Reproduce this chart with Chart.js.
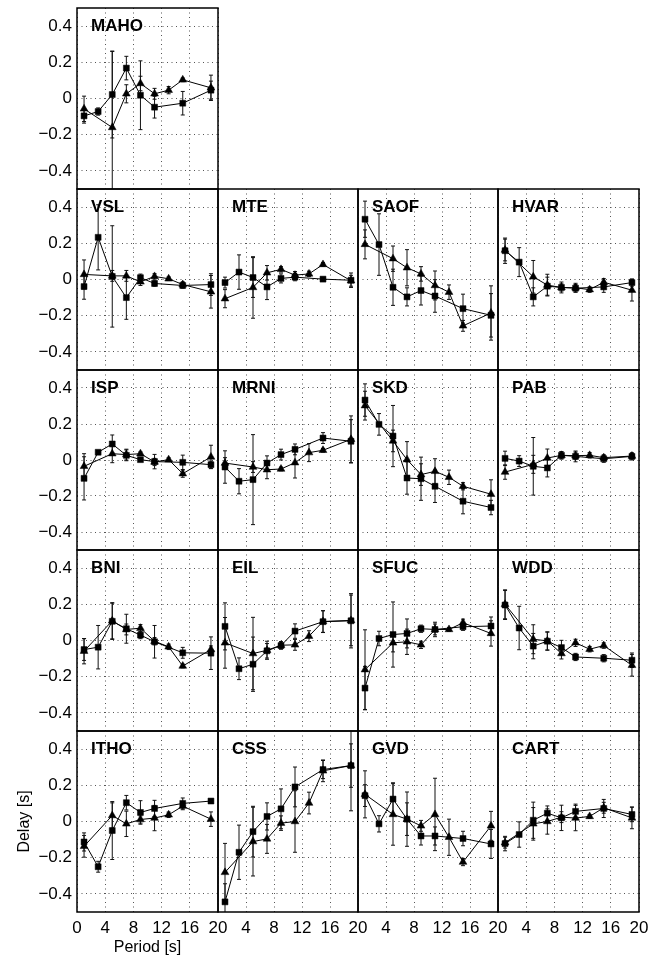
<!DOCTYPE html>
<html>
<head>
<meta charset="utf-8">
<title>Delay vs period</title>
<script src="https://cdn.jsdelivr.net/npm/chart.js@4.4.1/dist/chart.umd.min.js"></script>
<style>
  html, body { margin: 0; padding: 0; background: #fff; overflow: hidden; }
  #figura { position: relative; width: 655px; height: 955px; }
  #figura canvas { position: absolute; }
</style>
</head>
<body>
<div id="figura"></div>
<script>
// estações na ordem de leitura (MAHO sozinha na primeira linha)
const stations = ['MAHO',
  'VSL', 'MTE', 'SAOF', 'HVAR',
  'ISP', 'MRNI', 'SKD', 'PAB',
  'BNI', 'EIL', 'SFUC', 'WDD',
  'ITHO', 'CSS', 'GVD', 'CART'];
const periods = [1, 3, 5, 7, 9, 11, 13, 15, 19];
const xTicks = [0, 4, 8, 12, 16, 20];
const yTicks = [-0.4, -0.2, 0, 0.2, 0.4];

// série dos quadrados (null = sem medida nesse período)
const squareDelay = [
  [-0.096, -0.072, 0.022, 0.168, 0.018, -0.048, null, -0.026, 0.046],   // MAHO
  [-0.039, 0.233, 0.017, -0.1, 0.01, -0.022, null, -0.033, -0.028],     // VSL
  [-0.017, 0.041, 0.011, -0.041, 0.006, 0.013, null, 0.002, -0.004],    // MTE
  [0.333, 0.193, -0.043, -0.096, -0.061, -0.091, null, -0.161, -0.198], // SAOF
  [0.159, 0.096, -0.096, -0.037, -0.044, -0.048, null, -0.041, -0.017], // HVAR
  [-0.102, 0.043, 0.089, 0.026, 0.002, -0.009, null, -0.013, -0.026],   // ISP
  [-0.039, -0.118, -0.109, -0.017, 0.03, 0.059, null, 0.122, 0.104],    // MRNI
  [0.333, 0.198, 0.133, -0.1, -0.104, -0.146, null, -0.229, -0.264],    // SKD
  [0.009, -0.006, -0.035, -0.044, 0.026, 0.02, null, 0.007, 0.02],      // PAB
  [-0.05, -0.037, 0.106, 0.065, 0.03, -0.007, null, -0.068, -0.07],     // BNI
  [0.078, -0.156, -0.131, -0.057, -0.028, 0.052, null, 0.104, 0.109],   // EIL
  [-0.263, 0.011, 0.033, 0.039, 0.065, 0.061, null, 0.076, 0.08],       // SFUC
  [0.196, 0.069, -0.031, -0.004, -0.039, -0.091, null, -0.098, -0.109], // WDD
  [-0.113, -0.25, -0.05, 0.104, 0.05, 0.072, null, 0.1, 0.113],         // ITHO
  [-0.444, -0.17, -0.056, 0.028, 0.07, 0.191, null, 0.287, 0.309],      // CSS
  [0.143, -0.013, 0.124, 0.013, -0.08, -0.08, null, -0.094, -0.124],    // GVD
  [-0.122, -0.072, 0.007, 0.046, 0.02, 0.056, null, 0.072, 0.039]       // CART
];
const squareError = [
  [0.04, 0.02, 0.24, 0.065, 0.19, 0.06, null, 0.065, 0.05],
  [0.07, 0.18, 0.28, 0.12, 0.02, 0.015, null, 0.015, 0.06],
  [0.03, 0.095, 0.11, 0.07, 0.025, 0.02, null, 0.01, 0.04],
  [0.1, 0.17, 0.1, 0.05, 0.08, 0.09, null, 0.08, 0.12],
  [0.07, 0.08, 0.05, 0.05, 0.02, 0.02, null, 0.03, 0.02],
  [0.12, 0.01, 0.05, 0.03, 0.01, 0.04, null, 0.04, 0.02],
  [0.09, 0.07, 0.25, 0.04, 0.03, 0.03, null, 0.03, 0.12],
  [0.09, 0.06, 0.17, 0.09, 0.12, 0.09, null, 0.07, 0.04],
  [0.04, 0.03, 0.16, 0.05, 0.02, 0.03, null, 0.02, 0.02],
  [0.06, 0.12, 0.1, 0.08, 0.02, 0.09, null, 0.03, 0.09],
  [0.13, 0.06, 0.15, 0.04, 0.02, 0.04, null, 0.06, 0.15],
  [0.12, 0.04, 0.18, 0.08, 0.02, 0.04, null, 0.02, 0.05],
  [0.08, 0.12, 0.07, 0.05, 0.04, 0.02, null, 0.02, 0.04],
  [0.05, 0.03, 0.16, 0.04, 0.065, 0.045, null, 0.03, 0.01],
  [0.1, 0.15, 0.14, 0.075, 0.11, 0.11, null, 0.05, 0.25],
  [0.06, 0.045, 0.09, 0.15, 0.05, 0.05, null, 0.04, 0.08],
  [0.04, 0.07, 0.1, 0.04, 0.07, 0.04, null, 0.05, 0.04]
];

// série dos triângulos
const triangleDelay = [
  [-0.057, null, -0.16, 0.026, 0.083, 0.026, 0.046, 0.103, 0.059],     // MAHO
  [0.028, null, 0.02, 0.02, -0.013, 0.017, 0.004, -0.028, -0.068],     // VSL
  [-0.106, null, -0.044, 0.037, 0.056, 0.024, 0.031, 0.083, -0.007],   // MTE
  [0.194, null, 0.115, 0.065, 0.031, -0.033, -0.07, -0.256, -0.185],   // SAOF
  [0.163, null, 0.015, -0.031, -0.044, -0.046, -0.056, -0.015, -0.059],// HVAR
  [-0.035, null, 0.035, 0.03, 0.035, -0.011, 0.002, -0.076, 0.017],    // ISP
  [-0.017, null, -0.039, -0.054, -0.05, -0.015, 0.041, 0.054, 0.115],  // MRNI
  [0.302, null, 0.106, 0.002, -0.081, -0.063, -0.096, -0.146, -0.19],  // SKD
  [-0.067, null, -0.024, 0.011, 0.026, 0.024, 0.026, 0.013, 0.022],    // PAB
  [-0.059, null, 0.109, 0.061, 0.068, -0.004, -0.035, -0.141, -0.05],  // BNI
  [-0.013, null, -0.072, -0.054, -0.026, -0.024, 0.024, 0.105, 0.111], // EIL
  [-0.161, null, -0.013, -0.007, -0.024, 0.061, 0.061, 0.098, 0.039],  // SFUC
  [0.2, null, 0.007, -0.002, -0.072, -0.013, -0.048, -0.028, -0.137],  // WDD
  [-0.137, null, 0.033, -0.013, 0.011, 0.019, 0.037, 0.085, 0.013],    // ITHO
  [-0.281, null, -0.111, -0.096, -0.009, 0, 0.102, 0.28, 0.309],       // CSS
  [0.15, null, 0.039, 0.013, -0.024, 0.039, -0.087, -0.224, -0.024],   // GVD
  [-0.117, null, -0.013, 0, 0.024, 0.019, 0.028, 0.076, 0.02]          // CART
];
const triangleError = [
  [0.07, null, 0.42, 0.05, 0.04, 0.03, 0.02, 0.01, 0.07],
  [0.08, null, 0.03, 0.03, 0.02, 0.015, 0.01, 0.015, 0.09],
  [0.05, null, 0.17, 0.04, 0.015, 0.02, 0.015, 0.01, 0.03],
  [0.08, null, 0.07, 0.1, 0.04, 0.08, 0.04, 0.03, 0.15],
  [0.06, null, 0.09, 0.06, 0.03, 0.025, 0.015, 0.02, 0.06],
  [0.07, null, 0.05, 0.03, 0.01, 0.02, 0.01, 0.02, 0.065],
  [0.03, null, 0.03, 0.05, 0.01, 0.085, 0.05, 0.01, 0.13],
  [0.08, null, 0.06, 0.1, 0.06, 0.07, 0.04, 0.02, 0.08],
  [0.04, null, 0.05, 0.05, 0.02, 0.02, 0.015, 0.015, 0.015],
  [0.07, null, 0.1, 0.03, 0.02, 0.02, 0.015, 0.01, 0.02],
  [0.14, null, 0.2, 0.05, 0.02, 0.03, 0.03, 0.06, 0.14],
  [0.22, null, 0.05, 0.07, 0.02, 0.03, 0.01, 0.02, 0.07],
  [0.08, null, 0.08, 0.05, 0.03, 0.02, 0.015, 0.015, 0.06],
  [0.06, null, 0.07, 0.07, 0.02, 0.07, 0.015, 0.02, 0.04],
  [0.16, null, 0.19, 0.08, 0.04, 0.17, 0.06, 0.06, 0.12],
  [0.13, null, 0.17, 0.09, 0.03, 0.2, 0.1, 0.02, 0.08],
  [0.03, null, 0.09, 0.07, 0.03, 0.07, 0.01, 0.03, 0.06]
];

const FONTE = '"Liberation Sans", Arial, Helvetica, sans-serif';
Chart.defaults.font.family = FONTE;
Chart.defaults.color = '#000';

// moldura do painel + nome da estação
const moldura = {
  id: 'moldura',
  afterDraw(chart, args, opts) {
    const { ctx, chartArea: a, scales } = chart;
    ctx.save();
    ctx.strokeStyle = '#000';
    ctx.lineWidth = 1.5;
    ctx.strokeRect(a.left, a.top, a.right - a.left, a.bottom - a.top);
    ctx.font = 'bold 17px ' + FONTE;
    ctx.fillStyle = '#000';
    ctx.textAlign = 'left';
    ctx.textBaseline = 'middle';
    ctx.fillText(opts.nome, scales.x.getPixelForValue(2), scales.y.getPixelForValue(0.4));
    ctx.restore();
  }
};

const pontos = (vals) => periods
  .map((p, i) => ({ x: p, y: vals[i] }))
  .filter(d => d.y !== null);

// barras de erro: segmento vertical por período, separados por null
const barras = (vals, errs) => {
  const out = [];
  periods.forEach((p, i) => {
    if (vals[i] === null) return;
    out.push({ x: p, y: vals[i] - errs[i] }, { x: p, y: vals[i] + errs[i] }, { x: p, y: null });
  });
  return out;
};

const colLeft = c => Math.round(77.3 + c * 140.3);
const rowTop = r => Math.round(8.3 + r * 180.7);

const figura = document.getElementById('figura');

stations.forEach((nome, k) => {
  const row = k === 0 ? 0 : 1 + Math.floor((k - 1) / 4);
  const col = k === 0 ? 0 : (k - 1) % 4;
  const L = colLeft(col), R = colLeft(col + 1);
  const T = rowTop(row), B = rowTop(row + 1);
  const bottomRow = row === 4;

  const padL = col === 0 ? 0 : 2;
  const axisW = col === 0 ? L : 0;
  const padT = 2, padR = 14;
  const axisH = bottomRow ? 44 : 0;
  const padB = bottomRow ? 0 : 2;

  const canvas = document.createElement('canvas');
  canvas.width = padL + axisW + (R - L) + padR;
  canvas.height = padT + (B - T) + axisH + padB;
  canvas.style.left = (L - axisW - padL) + 'px';
  canvas.style.top = (T - padT) + 'px';
  figura.appendChild(canvas);

  const semPadding = s => { s.paddingLeft = 0; s.paddingRight = 0; s.paddingTop = 0; s.paddingBottom = 0; };

  new Chart(canvas.getContext('2d'), {
    type: 'line',
    data: {
      datasets: [
        {
          data: pontos(squareDelay[k]),
          borderColor: '#000', borderWidth: 1, tension: 0,
          pointStyle: 'rect', pointRadius: 4.2, pointBackgroundColor: '#000',
          pointBorderColor: '#000', pointBorderWidth: 0.5
        },
        {
          data: pontos(triangleDelay[k]),
          borderColor: '#000', borderWidth: 1, tension: 0,
          pointStyle: 'triangle', pointRadius: 4.5, pointBackgroundColor: '#000',
          pointBorderColor: '#000', pointBorderWidth: 0.5
        },
        {
          data: barras(squareDelay[k], squareError[k]),
          borderColor: '#111', borderWidth: 1, spanGaps: false,
          pointStyle: 'line', pointRadius: 2, pointBorderColor: '#111', pointBorderWidth: 1
        },
        {
          data: barras(triangleDelay[k], triangleError[k]),
          borderColor: '#111', borderWidth: 1, spanGaps: false,
          pointStyle: 'line', pointRadius: 2, pointBorderColor: '#111', pointBorderWidth: 1
        }
      ]
    },
    options: {
      responsive: false,
      devicePixelRatio: 1,
      animation: false,
      events: [],
      layout: { autoPadding: false, padding: { left: padL, top: padT, right: padR, bottom: padB } },
      plugins: { legend: { display: false }, tooltip: { enabled: false }, moldura: { nome } },
      scales: {
        x: {
          type: 'linear', min: 0, max: 20,
          afterBuildTicks: s => { s.ticks = xTicks.map(value => ({ value })); },
          afterFit: s => { s.height = axisH; semPadding(s); },
          ticks: {
            display: bottomRow, autoSkip: false, maxRotation: 0, padding: 6,
            font: { size: 17 },
            callback: v => (col > 0 && v === 0) ? '' : String(v)
          },
          grid: { color: '#555', lineWidth: 1, drawTicks: false },
          border: { display: false, dash: [1, 3.5] },
          title: {
            display: bottomRow && col === 0, text: 'Period [s]',
            font: { size: 16, lineHeight: 1 }, padding: { top: 0, bottom: 0 }
          }
        },
        y: {
          type: 'linear', min: -0.5, max: 0.5,
          afterBuildTicks: s => { s.ticks = yTicks.map(value => ({ value })); },
          afterFit: s => { s.width = axisW; semPadding(s); },
          ticks: {
            display: col === 0, autoSkip: false, padding: 5,
            font: { size: 17 },
            callback: v => v === 0 ? '0' : (v < 0 ? '\u2212' + Math.abs(v).toFixed(1) : v.toFixed(1))
          },
          grid: { color: '#555', lineWidth: 1, drawTicks: false },
          border: { display: false, dash: [1, 3.5] },
          title: {
            display: bottomRow && col === 0, text: 'Delay [s]',
            font: { size: 16, lineHeight: 1 }, padding: { top: 17, bottom: 0 }
          }
        }
      }
    },
    plugins: [moldura]
  });
});
</script>
</body>
</html>
